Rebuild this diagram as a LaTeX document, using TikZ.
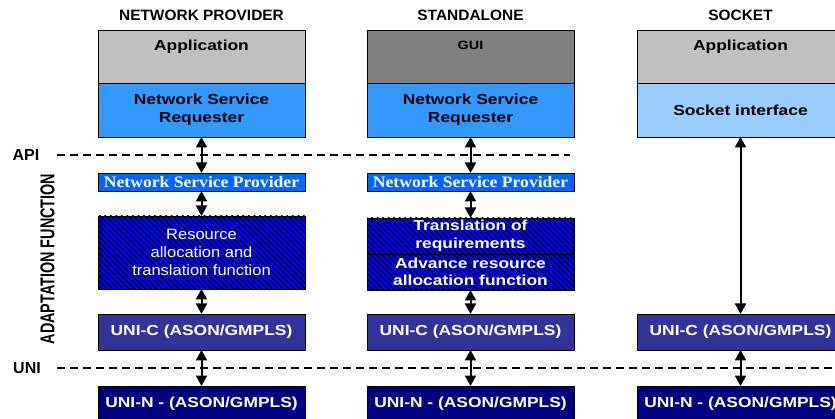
\documentclass[tikz,border=0pt]{standalone}
\usepackage{fontspec}
\usepackage{graphicx}
\setmainfont{Liberation Sans}
\newfontfamily\widesans[FakeStretch=1.2]{Liberation Sans}
\newfontfamily\midsans[FakeStretch=1.1]{Liberation Sans}
\newfontfamily\titlesans[FakeStretch=1.03]{Liberation Sans}
\newfontfamily\wideserif[FakeStretch=1.1]{Liberation Serif}
\usetikzlibrary{arrows.meta,patterns.meta}
\definecolor{appgray}{RGB}{192,192,192}
\definecolor{guigray}{RGB}{128,128,128}
\definecolor{nsrblue}{RGB}{51,153,255}
\definecolor{nspblue}{RGB}{0,102,255}
\definecolor{sockblue}{RGB}{153,204,255}
\definecolor{hatchblue}{RGB}{0,0,255}
\definecolor{unicblue}{RGB}{51,51,153}
\definecolor{uninblue}{RGB}{0,0,128}
\begin{document}
\begin{tikzpicture}[x=1pt,y=-1pt,
  box/.style={draw=black, line width=0.8pt, minimum width=207pt, inner sep=0pt, outer sep=0pt, align=center},
  lbl/.style={font=\widesans\bfseries\fontsize{14.5}{17.5}\selectfont, align=center},
  lblw/.style={lbl, text=white},
  small/.style={font=\widesans\bfseries\fontsize{12}{12}\selectfont},
  nspfont/.style={font=\wideserif\bfseries\fontsize{16}{18}\selectfont, text=white},
  regfont/.style={font=\midsans\fontsize{15}{18}\selectfont, text=white},
  title/.style={font=\titlesans\bfseries\fontsize{15}{18}\selectfont, inner sep=0pt},
  side/.style={font=\bfseries\fontsize{16}{18}\selectfont, inner sep=0pt},
  hatchbox/.style={box, preaction={fill=hatchblue}, pattern={Lines[angle=-45,distance=3.9pt,line width=1.1pt]}, pattern color=black},
  dbl/.style={line width=2pt, {Triangle[length=10.5pt,width=11pt]}-{Triangle[length=10.5pt,width=11pt]}},
  dashline/.style={line width=1.3pt, dash pattern=on 8pt off 5pt}
]
\useasboundingbox (0,0) rectangle (835,419);
\clip (0,0) rectangle (835,419);

% titles
\node[title] (t1) at (201.5,15.5) {NETWORK PROVIDER};
\node[title] (t2) at (470.5,15.5) {STANDALONE};
\node[title] (t3) at (740.5,15.5) {SOCKET};

% side labels
\node[side] (api) at (26,155) {API};
\node[side] (uni) at (27,368) {UNI};
\node[rotate=90, inner sep=0pt, font=\bfseries\fontsize{20}{20}\selectfont] (adapt) at (47.5,259) {\scalebox{0.72}[1]{ADAPTATION FUNCTION}};

% dashed lines
\coordinate (apiL) at (57,155);
\coordinate (apiR) at (570,155);
\coordinate (uniL) at (57,368);
\coordinate (uniR) at (835,368);
\draw[dashline] (apiL) -- (apiR);
\draw[dashline] (uniL) -- (uniR);

% column 1: network provider
\node[box, fill=appgray, minimum height=53pt] (app1) at (201.5,56.5) {};
\node[lbl] (app1t) at (201.5,46.5) {Application};
\node[box, fill=nsrblue, minimum height=54pt, lbl] (nsr1) at (201.5,110) {Network Service\\Requester};
\node[box, fill=nspblue, minimum height=18pt, nspfont] (nsp1) at (201.5,182) {Network Service Provider};
\node[hatchbox, minimum height=73pt, regfont] (res1) at (201.5,252.5) {Resource\\allocation and\\translation function};
\node[box, fill=unicblue, minimum height=36pt, lblw] (unic1) at (201.5,332) {UNI-C (ASON/GMPLS)};
\node[box, fill=uninblue, minimum height=36pt, lblw] (unin1) at (201.5,404) {UNI-N - (ASON/GMPLS)};

% column 2: standalone
\node[box, fill=guigray, minimum height=53pt] (gui2) at (470.5,56.5) {};
\node[small] (gui2t) at (470.5,45) {GUI};
\node[box, fill=nsrblue, minimum height=54pt, lbl] (nsr2) at (470.5,110) {Network Service\\Requester};
\node[box, fill=nspblue, minimum height=18pt, nspfont] (nsp2) at (470.5,182) {Network Service Provider};
\node[hatchbox, minimum height=36pt, lblw] (tr2) at (470.5,236) {Translation of\\requirements};
\node[hatchbox, minimum height=36pt, lblw] (ar2) at (470.5,272) {Advance resource\\allocation function};
\node[box, fill=unicblue, minimum height=36pt, lblw] (unic2) at (470.5,332) {UNI-C (ASON/GMPLS)};
\node[box, fill=uninblue, minimum height=36pt, lblw] (unin2) at (470.5,404) {UNI-N - (ASON/GMPLS)};

% column 3: socket
\node[box, fill=appgray, minimum height=53pt] (app3) at (740.5,56.5) {};
\node[lbl] (app3t) at (740.5,46.5) {Application};
\node[box, fill=sockblue, minimum height=54pt, lbl] (sock3) at (740.5,110) {Socket interface};
\node[box, fill=unicblue, minimum height=36pt, lblw] (unic3) at (740.5,332) {UNI-C (ASON/GMPLS)};
\node[box, fill=uninblue, minimum height=36pt, lblw] (unin3) at (740.5,404) {UNI-N - (ASON/GMPLS)};

% arrows
\draw[dbl] (nsr1.south) -- (nsp1.north);
\draw[dbl] (nsp1.south) -- (res1.north);
\draw[dbl] (res1.south) -- (unic1.north);
\draw[dbl] (unic1.south) -- (unin1.north);

\draw[dbl] (nsr2.south) -- (nsp2.north);
\draw[dbl] (nsp2.south) -- (tr2.north);
\draw[dbl] (ar2.south) -- (unic2.north);
\draw[dbl] (unic2.south) -- (unin2.north);

\draw[dbl] (sock3.south) -- (unic3.north);
\draw[dbl] (unic3.south) -- (unin3.north);
\end{tikzpicture}
\end{document}
